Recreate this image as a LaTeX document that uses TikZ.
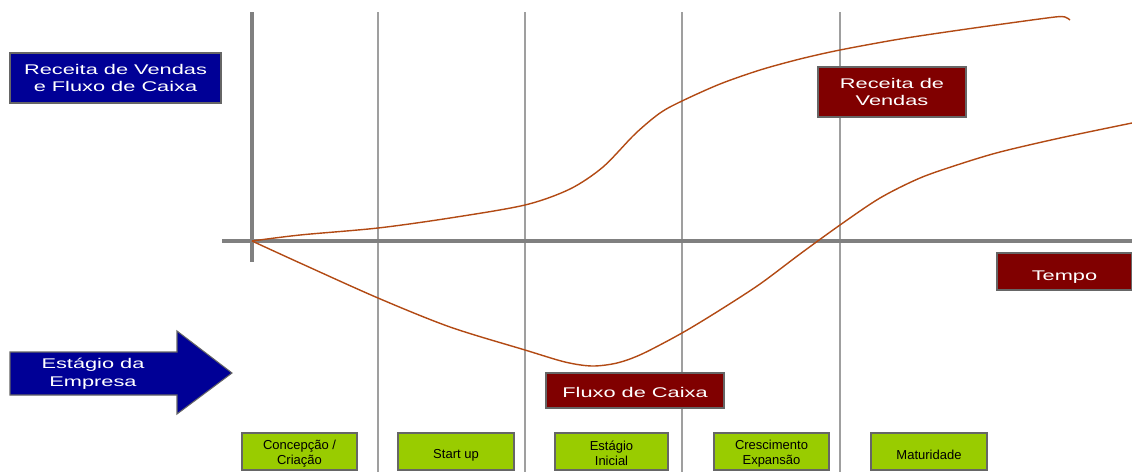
\documentclass[tikz,border=0pt]{standalone}
\usepackage{fontspec}
\setmainfont{Liberation Sans}
\newfontfamily\widesans[FakeStretch=1.55]{Liberation Sans}
\usepackage{tikz}
\usepackage{xcolor}
\definecolor{boxblue}{RGB}{0,0,150}
\definecolor{boxred}{RGB}{128,0,0}
\definecolor{boxgreen}{RGB}{153,204,0}
\definecolor{curvebrown}{RGB}{178,74,20}
\tikzstyle{wide} = [text=white, align=center, font=\widesans\fontsize{8pt}{10.2pt}\selectfont]
\tikzstyle{stage} = [align=center, font=\fontsize{7.4pt}{8.6pt}\selectfont]
\tikzstyle{boxline} = [draw=gray!80!black, line width=0.6pt]
\tikzstyle{curve} = [curvebrown, line width=0.8pt]

\begin{document}
\begin{tikzpicture}[x=0.02cm, y=-0.02cm]
	\useasboundingbox (0, 0) rectangle (1132, 474);
	% divisoes dos estagios
	\foreach \xs in {378, 525, 682, 840}
		\draw[gray!75, line width=0.6pt] (\xs, 12) -- (\xs, 472);
	% eixos
	\draw[gray, line width=2.3pt] (252, 12) -- (252, 262);
	\draw[gray, line width=2.3pt] (222, 241) -- (1132, 241);
	% curvas
	\draw[curve] plot[smooth] coordinates {(252,241) (300,235) (378,228) (450,218) (525,205) (570,189) (603,167) (635,134) (660,113) (682,101) (720,84) (760,70) (800,59) (840,50) (900,39) (960,30) (1010,23) (1055,17) (1065,17) (1070,20)};
	\draw[curve] plot[smooth] coordinates {(252,241) (300,263) (378,298) (450,327) (525,350) (565,362) (592,366) (617,363) (642,354) (682,333) (720,310) (760,284) (800,254) (840,225) (880,198) (920,178) (960,164) (1000,152) (1060,138) (1132,123)};
	% rotulos
	\filldraw[boxline, fill=boxblue] (10, 53) rectangle (221, 103) node[midway, wide] (yaxis) {Receita de Vendas\\e Fluxo de Caixa};
	\filldraw[boxline, fill=boxblue] (10, 352) -- (177, 352) -- (177, 331) -- (232, 373) -- (177, 414) -- (177, 395) -- (10, 395) -- cycle;
	\node[wide] (stagearrow) at (93, 374) {Estágio da\\Empresa};
	\filldraw[boxline, fill=boxred] (818, 67) rectangle (966, 117) node[midway, wide] (sales) {Receita de\\Vendas};
	\filldraw[boxline, fill=boxred] (997, 253) rectangle (1132, 290) node[midway, wide, yshift=-3pt] (time) {Tempo};
	\filldraw[boxline, fill=boxred] (546, 373) rectangle (724, 408) node[midway, wide, yshift=-1pt] (cashflow) {Fluxo de Caixa};
	% estagios
	\filldraw[boxline, fill=boxgreen] (242, 433) rectangle (357, 470) node[midway, stage, yshift=-1pt] (conception) {Concepção /\\Criação};
	\filldraw[boxline, fill=boxgreen] (398, 433) rectangle (514, 470) node[midway, stage, yshift=-2pt] (startup) {Start up};
	\filldraw[boxline, fill=boxgreen] (555, 433) rectangle (668, 470) node[midway, stage, yshift=-1pt] (initial) {Estágio\\Inicial};
	\filldraw[boxline, fill=boxgreen] (714, 433) rectangle (829, 470) node[midway, stage, yshift=-1pt] (growth) {Crescimento\\Expansão};
	\filldraw[boxline, fill=boxgreen] (871, 433) rectangle (987, 470) node[midway, stage, yshift=-2pt] (maturity) {Maturidade};
\end{tikzpicture}
\end{document}
